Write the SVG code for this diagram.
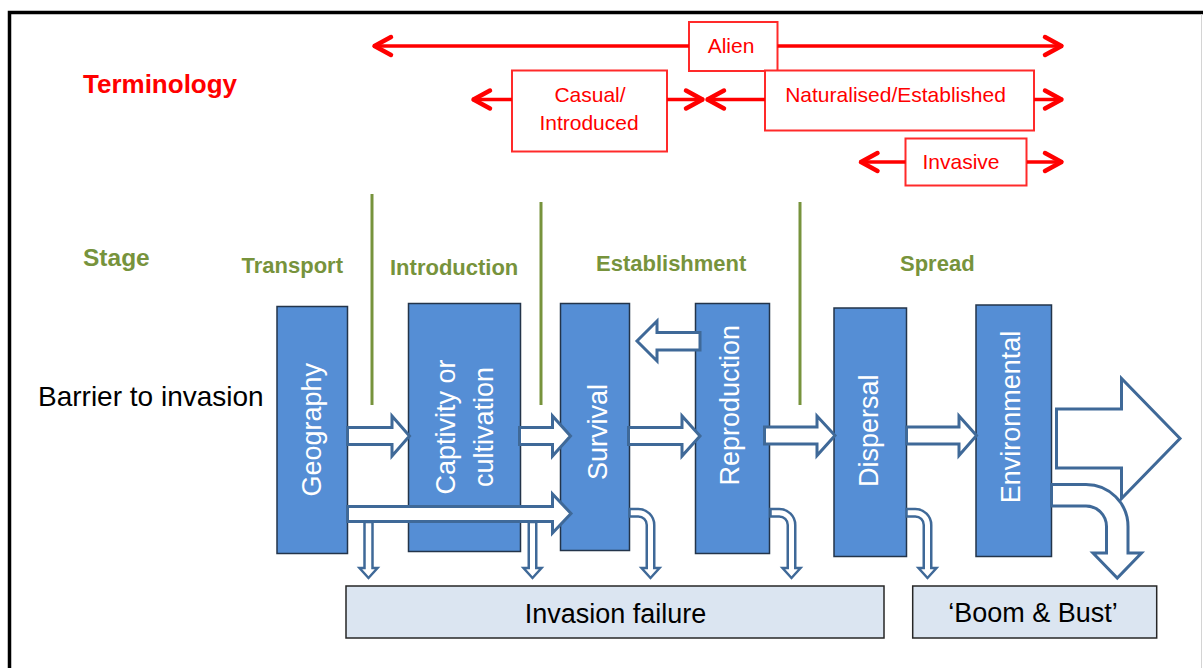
<svg xmlns="http://www.w3.org/2000/svg" width="1203" height="668" viewBox="0 0 1203 668">
<style>
text{font-family:"Liberation Sans",Arial,sans-serif}
.bar{fill:#558ED5;stroke:#23344A;stroke-width:1.5}
.bt{fill:#fff;font-size:27px;text-anchor:middle}
.blk{fill:#fff;stroke:#3F6998;stroke-width:3;stroke-linejoin:miter}
.thin{fill:#fff;stroke:#3F6998;stroke-width:2.5}
.term{fill:#fff;stroke:#FF2A2A;stroke-width:2}
.tt{fill:#FF0000;font-size:21px;text-anchor:middle}
.rl{stroke:#FF0000;stroke-width:3.5;fill:none;marker-end:url(#chev)}
.gl{stroke:#77933C;stroke-width:3}
.st{fill:#77933C;font-weight:bold;font-size:22px}
.fail{fill:#DBE5F1;stroke:#262626;stroke-width:1.5}
.ft{fill:#000;font-size:27px;text-anchor:middle}
</style>
<defs>
<marker id="chev" markerUnits="userSpaceOnUse" markerWidth="30" markerHeight="30" viewBox="-25 -15 30 30" refX="0" refY="0" orient="auto" overflow="visible">
<path d="M-18,-9 L-1.5,0 L-18,9" fill="none" stroke="#FF0000" stroke-width="4.5" stroke-linecap="round" stroke-linejoin="round"/>
</marker>
</defs>
<rect width="1203" height="668" fill="#fff"/>
<g id="frame">
<path d="M9.5,668 V12.5 H1203" fill="none" stroke="#000" stroke-width="3.5"/>
<line x1="1201.5" y1="14" x2="1201.5" y2="668" stroke="#d4d4d4" stroke-width="1"/>
</g>
<g id="labels">
<text x="83" y="93" font-size="26" font-weight="bold" fill="#FF0000">Terminology</text>
<text x="83" y="266" font-size="24.5" font-weight="bold" fill="#77933C">Stage</text>
<text x="38" y="405.5" font-size="28" fill="#000">Barrier to invasion</text>
</g>
<g id="stages">
<text class="st" x="241.5" y="272.5">Transport</text>
<text class="st" x="390" y="275">Introduction</text>
<text class="st" x="596" y="270.5">Establishment</text>
<text class="st" x="900" y="270.5">Spread</text>
<line class="gl" x1="372" y1="194" x2="372" y2="405"/>
<line class="gl" x1="541" y1="202" x2="541" y2="405"/>
<line class="gl" x1="800" y1="202" x2="800" y2="405"/>
</g>
<g id="term-alien"><rect class="term" x="689" y="22" width="88.5" height="49"/><text class="tt" x="731" y="52.5">Alien</text></g>
<g id="term-casual"><rect class="term" x="512" y="70.5" width="155" height="81"/><text class="tt" x="590" y="101.5">Casual/</text><text class="tt" x="589" y="130">Introduced</text></g>
<g id="term-naturalised"><rect class="term" x="765" y="70.5" width="269" height="60"/><text class="tt" x="895.5" y="101.5">Naturalised/Established</text></g>
<g id="term-invasive"><rect class="term" x="905.5" y="138.5" width="121" height="47"/><text class="tt" x="961" y="169">Invasive</text></g>
<g id="bar-geography"><rect class="bar" x="277" y="306.5" width="70.5" height="247"/><text class="bt" transform="translate(321,429.7) rotate(-90)">Geography</text></g>
<g id="bar-captivity"><rect class="bar" x="408.5" y="303.5" width="112" height="248"/><text class="bt" transform="translate(454.5,427) rotate(-90)">Captivity or</text><text class="bt" transform="translate(492.5,427) rotate(-90)">cultivation</text></g>
<g id="bar-survival"><rect class="bar" x="560.5" y="303.5" width="69" height="247"/><text class="bt" transform="translate(606.5,432) rotate(-90)">Survival</text></g>
<g id="bar-reproduction"><rect class="bar" x="695.5" y="303.5" width="74" height="250"/><text class="bt" transform="translate(739,405.3) rotate(-90)">Reproduction</text></g>
<g id="bar-dispersal"><rect class="bar" x="834" y="308" width="72.5" height="248.5"/><text class="bt" transform="translate(877.5,430.8) rotate(-90)">Dispersal</text></g>
<g id="bar-environmental"><rect class="bar" x="976" y="305" width="75.5" height="251.5"/><text class="bt" transform="translate(1020,417) rotate(-90)">Environmental</text></g>
<g id="box-failure"><rect class="fail" x="346" y="586" width="538" height="52"/><text class="ft" x="615.5" y="622.5">Invasion failure</text></g>
<g id="box-boom"><rect class="fail" x="912.7" y="586" width="244" height="52"/><text class="ft" x="1033" y="621.5">‘Boom &amp; Bust’</text></g>
<g id="connectors">
<line class="rl" x1="689" y1="46" x2="373" y2="46"/>
<line class="rl" x1="777.5" y1="46" x2="1063" y2="46"/>
<line class="rl" x1="512" y1="99.5" x2="472" y2="99.5"/>
<line class="rl" x1="667" y1="99.5" x2="704" y2="99.5"/>
<line class="rl" x1="765" y1="99.5" x2="706" y2="99.5"/>
<line class="rl" x1="1034" y1="99.5" x2="1063" y2="99.5"/>
<line class="rl" x1="905.5" y1="162" x2="859.5" y2="162"/>
<line class="rl" x1="1027" y1="162" x2="1063" y2="162"/>
<path class="blk" d="M347.5,427.5 H392 V416 L409.5,436 L392,456 V444.5 H347.5 Z"/>
<path class="blk" d="M519.5,427.5 H552.5 V416 L570.5,436 L552.5,456 V444.5 H519.5 Z"/>
<path class="blk" d="M628.5,427.5 H682 V416 L700,436 L682,456 V444.5 H628.5 Z"/>
<path class="blk" d="M764.5,427 H817 V416 L835,435.5 L817,455.5 V444 H764.5 Z"/>
<path class="blk" d="M906.5,427 H959 V416 L976.5,435.5 L959,455.5 V444 H906.5 Z"/>
<path class="blk" d="M700,332.5 H657 V321 L637,341 L657,361 V350 H700 Z"/>
<path class="blk" d="M347.5,506.5 H552.5 V494 L571,513.5 L552.5,533 V521.5 H347.5 Z"/>
<path class="blk" d="M1056.5,409 H1121.5 V378.5 L1180,438.5 L1121.5,498.5 V468 H1056.5 Z"/>
<path class="blk" d="M1051.5,484.5 H1086 A42,42 0 0 1 1128,526.5 V553 H1141.5 L1117.25,578 L1093,553 H1106.5 V526.5 A20.5,20.5 0 0 0 1086,506 H1051.5 Z"/>
<path class="thin" d="M364.5,522 V568 H359.5 L368.5,578 L377.5,568 H372.5 V522 Z"/>
<path class="thin" d="M528.75,522 V568 H523.5 L532.5,578 L541.5,568 H536.25 V522 Z"/>
<path class="thin" d="M629.5,509 H638.25 A16,16 0 0 1 654.25,525 V568 H659.5 L650.5,578 L641.5,568 H646.75 V525 A8.5,8.5 0 0 0 638.25,516.5 H629.5 Z"/>
<path class="thin" d="M770.5,509 H779.25 A16,16 0 0 1 795.25,525 V568 H800.5 L791.5,578 L782.5,568 H787.75 V525 A8.5,8.5 0 0 0 779.25,516.5 H770.5 Z"/>
<path class="thin" d="M906.5,509 H915.25 A16,16 0 0 1 931.25,525 V568 H936.5 L927.5,578 L918.5,568 H923.75 V525 A8.5,8.5 0 0 0 915.25,516.5 H906.5 Z"/>
</g>
</svg>
